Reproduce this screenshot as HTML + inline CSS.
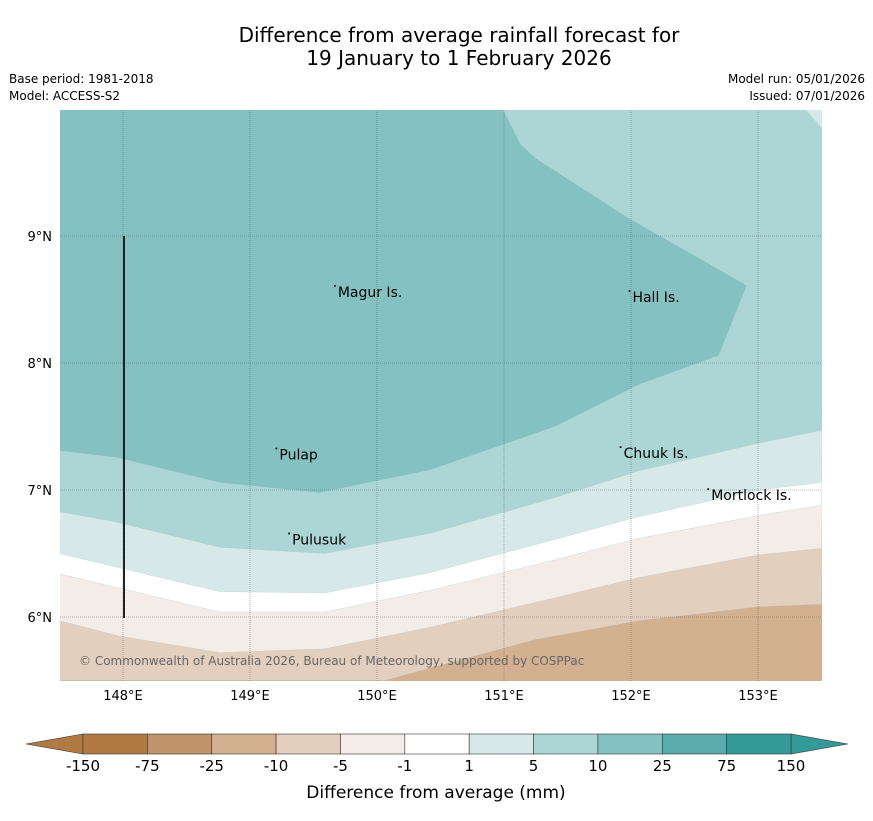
<!DOCTYPE html>
<html><head><meta charset="utf-8"><style>
body{margin:0;background:#fff;font-family:"Liberation Sans","DejaVu Sans",sans-serif;}
svg text{font-family:"DejaVu Sans","Liberation Sans",sans-serif;}
</style></head><body>
<svg id="c" width="873" height="816" xmlns="http://www.w3.org/2000/svg">
<text x="459" y="42" font-size="20" text-anchor="middle">Difference from average rainfall forecast for</text>
<text x="459" y="65" font-size="20" text-anchor="middle">19 January to 1 February 2026</text>
<text x="9" y="83" font-size="12">Base period: 1981-2018</text>
<text x="9" y="100" font-size="12">Model: ACCESS-S2</text>
<text x="865" y="83" font-size="12" text-anchor="end">Model run: 05/01/2026</text>
<text x="865" y="100" font-size="12" text-anchor="end">Issued: 07/01/2026</text>
<defs><clipPath id="mc"><rect x="60" y="110" width="762" height="571"/></clipPath></defs>
<g id="map" clip-path="url(#mc)"></g>
<g id="grid"></g>
<g id="labels"></g>
<g id="cbar"></g>
<text x="436" y="798" font-size="17" text-anchor="middle">Difference from average (mm)</text>
</svg>
<script>
const lonTicks=[148,149,150,151,152,153];
const latTicks=[9,8,7,6];
const levels=["-150","-75","-25","-10","-5","-1","1","5","10","25","75","150"];
const colors=["#b07a42","#c1936a","#d2b090","#e2cfbe","#f4ece6","#ffffff","#d6e9e8","#acd6d6","#84c2c2","#5aabab","#349a98"];
const c10=[[147.5,7.31],[147.94,7.26],[148.76,7.06],[149.55,6.98],[150.42,7.16],[151.4,7.5],[152.06,7.83],[152.69,8.06],[152.91,8.61],[151.98,9.14],[151.25,9.61],[151.13,9.72],[150.99,10]];
const c5=[[147.5,6.83],[147.94,6.75],[148.76,6.55],[149.59,6.5],[150.42,6.66],[151.4,6.94],[152.06,7.15],[153.01,7.37],[153.5,7.47]];
const c1=[[147.5,6.5],[148.76,6.2],[149.59,6.19],[150.42,6.35],[151.4,6.61],[152.06,6.79],[153.01,7.0],[153.5,7.06]];
const cm1=[[147.5,6.34],[148.76,6.04],[149.59,6.04],[150.42,6.21],[151.4,6.45],[152.06,6.62],[153.01,6.8],[153.5,6.88]];
const cm5=[[147.5,5.97],[147.97,5.85],[148.76,5.72],[149.59,5.75],[150.42,5.92],[151.4,6.15],[152.06,6.31],[153.01,6.49],[153.5,6.54]];
const cm10=[[150.06,5.5],[151.24,5.82],[152.06,5.97],[153.01,6.08],[153.5,6.1]];
const places=[["Magur Is.",149.66,8.56],["Hall Is.",151.98,8.52],["Pulap",149.2,7.28],["Chuuk Is.",151.91,7.29],["Mortlock Is.",152.6,6.96],["Pulusuk",149.3,6.61]];
const X=lon=>123+(lon-148)*127, Y=lat=>236+(9-lat)*127;
const NS="http://www.w3.org/2000/svg";
function mk(t,a,p){const e=document.createElementNS(NS,t);for(const k in a)e.setAttribute(k,a[k]);p.appendChild(e);return e;}
const map=document.getElementById('map');
const base=mk('rect',{x:60,y:110,width:762,height:571,fill:colors[2]},map);


function band(line,col,name,closeTop){
  let d=line.map((p,i)=>(i?'L':'M')+X(p[0]).toFixed(1)+','+Y(p[1]).toFixed(1)).join('');
  const last=line[line.length-1];
  d+=closeTop?`L${X(last[0])},100L50,100Z`:`L830,100L50,100L50,${Y(line[0][1])}Z`;
  const e=mk('path',{d:d,fill:col,stroke:'#9bb',"stroke-width":0.5,"stroke-opacity":0.4},map);
  
  
}
band(cm10,colors[3],'band-minus10-minus5');
band(cm5,colors[4],'band-minus5-minus1');
band(cm1,colors[5],'band-minus1-1');
band(c1,colors[6],'band-1-5');
band(c5,colors[7],'band-5-10');
band(c10,colors[8],'band-10-25',true);
const tri=mk('path',{d:'M806,110L822,110L822,128Z',fill:colors[6]},map);


const cr=mk('text',{x:79,y:665,"font-size":12,fill:'#666'},map);cr.textContent='© Commonwealth of Australia 2026, Bureau of Meteorology, supported by COSPPac';


const g=document.getElementById('grid');
lonTicks.forEach(l=>{const x=X(l);
 const ln=mk('line',{x1:x,y1:110,x2:x,y2:681,stroke:'#555',"stroke-width":0.6,"stroke-dasharray":"1,1","stroke-opacity":0.7},g);
 
 
 const t=mk('text',{x:x,y:700,"font-size":13,"text-anchor":"middle"},g);t.textContent=l+'°E';
 
 });
latTicks.forEach(l=>{const y=Y(l);
 const ln=mk('line',{x1:60,y1:y,x2:822,y2:y,stroke:'#555',"stroke-width":0.6,"stroke-dasharray":"1,1","stroke-opacity":0.8},g);
 
 
 const t=mk('text',{x:52,y:y+5,"font-size":13,"text-anchor":"end"},g);t.textContent=l+'°N';
 
 });
const vl=mk('line',{x1:124,y1:236,x2:124,y2:618,stroke:'#222',"stroke-width":2},g);


const lb=document.getElementById('labels');
places.forEach(p=>{const t=mk('text',{x:X(p[1])+4,y:Y(p[2])+5,"font-size":14},lb);t.textContent=p[0];
 
 
 const d=mk('circle',{cx:X(p[1])+1,cy:Y(p[2])-6,r:1,fill:'#000'},lb);
 
 });
const cb=document.getElementById('cbar');
const x0=83,x1=791,w=(x1-x0)/colors.length;
const lt=mk('path',{d:`M26,744L${x0},734L${x0},754Z`,fill:colors[0],stroke:'#333',"stroke-width":0.6},cb);


const rt=mk('path',{d:`M848,744L${x1},734L${x1},754Z`,fill:colors[colors.length-1],stroke:'#333',"stroke-width":0.6},cb);


colors.forEach((c,i)=>{const r=mk('rect',{x:x0+i*w,y:734,width:w,height:20,fill:c,stroke:'#333',"stroke-width":0.6},cb);
 
 });
levels.forEach((l,i)=>{const t=mk('text',{x:x0+i*w,y:771,"font-size":15,"text-anchor":"middle"},cb);t.textContent=l;
 
 });
</script>
</body></html>
